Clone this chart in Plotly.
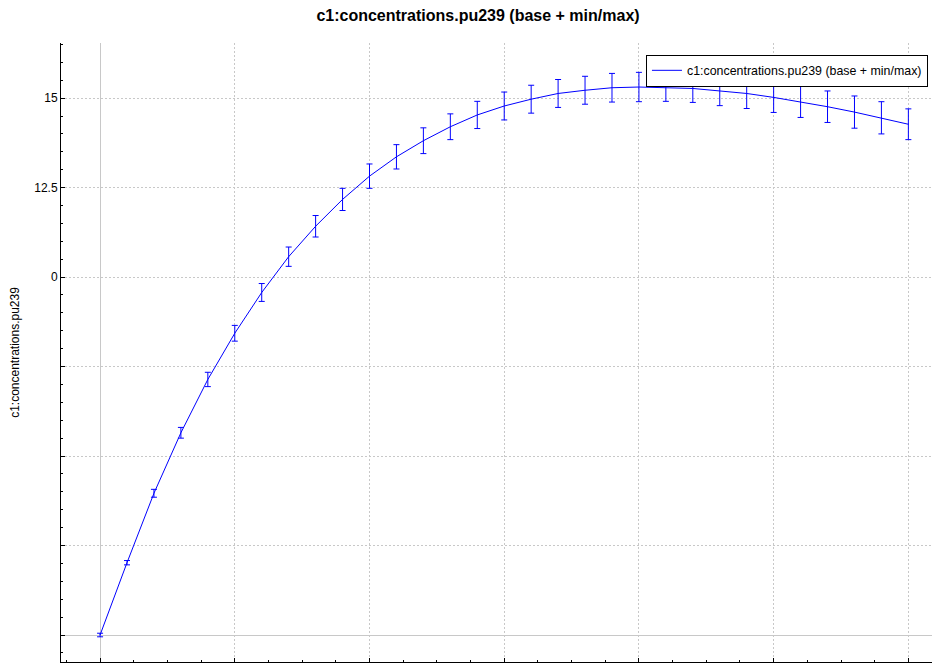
import plotly.graph_objects as go

# time step index and pu239 concentration (base, min, max)
steps = list(range(31))
base = [0.00, 2.02, 3.96, 5.65, 7.14, 8.43, 9.57, 10.57, 11.42, 12.17, 12.82,
        13.36, 13.81, 14.20, 14.53, 14.78, 14.97, 15.13, 15.22, 15.29, 15.31,
        15.30, 15.27, 15.20, 15.13, 15.02, 14.90, 14.76, 14.61, 14.45, 14.27]
low = [-0.05, 1.96, 3.85, 5.50, 6.94, 8.21, 9.32, 10.30, 11.12, 11.86, 12.48,
       13.02, 13.45, 13.84, 14.15, 14.39, 14.58, 14.74, 14.83, 14.89, 14.90,
       14.91, 14.88, 14.79, 14.71, 14.60, 14.46, 14.32, 14.16, 14.00, 13.84]
high = [0.05, 2.08, 4.07, 5.80, 7.34, 8.65, 9.82, 10.84, 11.72, 12.48, 13.16,
        13.70, 14.17, 14.56, 14.91, 15.17, 15.36, 15.52, 15.61, 15.69, 15.72,
        15.69, 15.66, 15.61, 15.55, 15.44, 15.34, 15.20, 15.06, 14.90, 14.70]

ytick_vals = [0, 2.5, 5, 7.5, 10, 12.5, 15]
ytick_text = ["", "", "", "", "0", "12.5", "15"]

name = "c1:concentrations.pu239 (base + min/max)"

fig = go.Figure()
fig.add_trace(go.Scatter(
    x=steps, y=base, mode="lines", name=name,
    line=dict(color="#0000ff", width=1),
    error_y=dict(type="data", symmetric=False,
                 array=[h - b for h, b in zip(high, base)],
                 arrayminus=[b - l for b, l in zip(base, low)],
                 color="#0000ff", thickness=1, width=3),
))

# page has an 8px body margin, so the plot box is offset by that
fig.update_layout(
    width=940, height=665,
    margin=dict(l=53, r=10, t=35, b=11, autoexpand=False),
    paper_bgcolor="white", plot_bgcolor="white",
    font=dict(family="Liberation Sans, Arial, sans-serif", size=12, color="black"),
    title=dict(text="<b>" + name + "</b>", x=0.5, xanchor="center",
               y=0.989, yanchor="middle", font=dict(size=16), automargin=False),
    showlegend=True,
    legend=dict(x=0.667, y=0.981, xanchor="left", yanchor="top",
                bgcolor="white", bordercolor="black", borderwidth=1,
                font=dict(size=12.4)),
)

fig.update_xaxes(
    range=[-1.45, 31.1], tickmode="linear", tick0=0, dtick=5, automargin=False,
    showticklabels=False, ticks="inside", ticklen=4, tickcolor="black",
    showline=True, linecolor="black", linewidth=1, mirror=False,
    showgrid=True, gridcolor="#c8c8c8", griddash="2px,2px", gridwidth=1,
    zeroline=True, zerolinecolor="#c8c8c8", zerolinewidth=1,
    minor=dict(dtick=1.25, ticks="inside", ticklen=2, tickcolor="black", showgrid=False),
)
fig.update_yaxes(
    range=[-0.754, 16.54], tickmode="array", tickvals=ytick_vals, ticktext=ytick_text,
    automargin=False,
    ticks="inside", ticklen=4, tickcolor="black",
    showline=True, linecolor="black", linewidth=1,
    showgrid=True, gridcolor="#c8c8c8", griddash="2px,2px", gridwidth=1,
    zeroline=True, zerolinecolor="#c8c8c8", zerolinewidth=1,
    minor=dict(tickmode="linear", tick0=0, dtick=0.5, ticks="inside", ticklen=2,
               tickcolor="black", showgrid=False),
    title=dict(text="c1:concentrations.pu239", standoff=20, font=dict(size=12)),
)

fig.write_html("out.html")
